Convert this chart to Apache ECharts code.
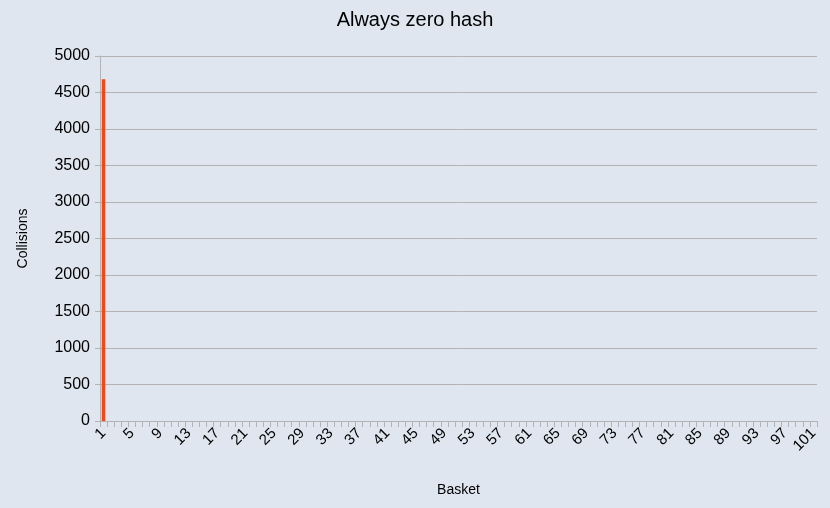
<!DOCTYPE html>
<html><head><meta charset="utf-8">
<script src="https://cdn.jsdelivr.net/npm/echarts@6/dist/echarts.min.js"></script>
<style>html,body{margin:0;padding:0;background:#dfe6ef}#c{width:830px;height:508px}</style>
</head><body><div id="c"></div>
<script>
const categories = ["1","2","3","4","5","6","7","8","9","10","11","12","13","14","15","16","17","18","19","20","21","22","23","24","25","26","27","28","29","30","31","32","33","34","35","36","37","38","39","40","41","42","43","44","45","46","47","48","49","50","51","52","53","54","55","56","57","58","59","60","61","62","63","64","65","66","67","68","69","70","71","72","73","74","75","76","77","78","79","80","81","82","83","84","85","86","87","88","89","90","91","92","93","94","95","96","97","98","99","100","101"];
const collisions = [4680,0,0,0,0,0,0,0,0,0,0,0,0,0,0,0,0,0,0,0,0,0,0,0,0,0,0,0,0,0,0,0,0,0,0,0,0,0,0,0,0,0,0,0,0,0,0,0,0,0,0,0,0,0,0,0,0,0,0,0,0,0,0,0,0,0,0,0,0,0,0,0,0,0,0,0,0,0,0,0,0,0,0,0,0,0,0,0,0,0,0,0,0,0,0,0,0,0,0,0,0];
const chart = echarts.init(document.getElementById('c'));
chart.setOption({
  backgroundColor:'#dfe6ef',
  animation:false,
  title:{text:'Always zero hash',left:'center',top:5,textStyle:{fontFamily:'Liberation Sans',fontSize:20,fontWeight:'normal',color:'#000'}},
  grid:{left:100,right:13,top:56,bottom:87,containLabel:false},
  xAxis:{type:'category',data:categories,name:'Basket',nameLocation:'middle',nameGap:62,
    nameTextStyle:{fontFamily:'Liberation Sans',fontSize:14,color:'#000'},
    axisLine:{lineStyle:{color:'#b3b3b3'}},
    axisTick:{show:true,interval:0,length:6,lineStyle:{color:'#b3b3b3'}},
    axisLabel:{interval:3,rotate:45,fontFamily:'Liberation Sans',fontSize:15,color:'#000',margin:10}},
  yAxis:{type:'value',min:0,max:5000,interval:500,name:'Collisions',nameLocation:'middle',nameGap:70,
    nameTextStyle:{fontFamily:'Liberation Sans',fontSize:14,color:'#000'},
    axisLine:{show:true,lineStyle:{color:'#b3b3b3'}},
    axisTick:{show:true,length:5,lineStyle:{color:'#b3b3b3'}},
    splitLine:{lineStyle:{color:'#b3b3b3'}},
    axisLabel:{fontFamily:'Liberation Sans',fontSize:16,color:'#000',margin:10,formatter:v=>String(v)}},
  series:[{type:'bar',data:collisions,barWidth:'50%',itemStyle:{color:'#ff420e',borderWidth:0}}]
});
</script></body></html>
